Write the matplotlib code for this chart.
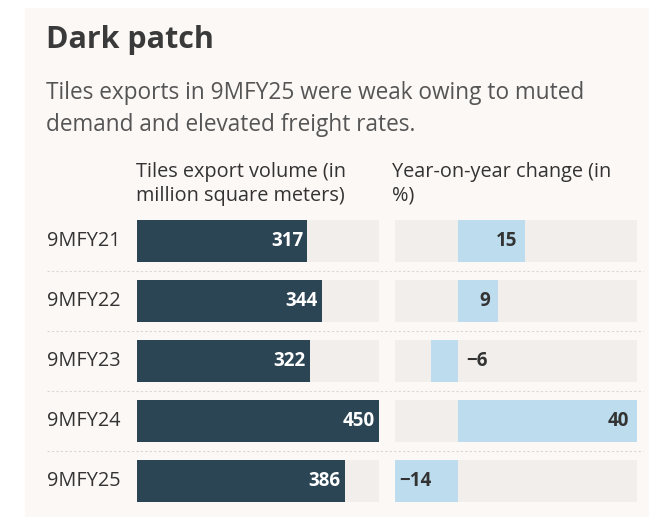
import matplotlib.pyplot as plt
from matplotlib.patches import Rectangle
from matplotlib.lines import Line2D

periods = ["9MFY21", "9MFY22", "9MFY23", "9MFY24", "9MFY25"]
volume = [317, 344, 322, 450, 386]
yoy_change = [15, 9, -6, 40, -14]

W, H = 649, 517
BG = "#fcf8f6"
TRACK = "#f1eeec"
DARK = "#2b4555"
LIGHT = "#bddcee"
TEXT = "#333333"

plt.rcParams["font.family"] = ["Open Sans", "DejaVu Sans"]

fig = plt.figure(figsize=(W / 100, H / 100), dpi=100, facecolor="white")


def px_axes(x0, y0, x1, y1):
    # axes placed by pixel box (top-left origin)
    return fig.add_axes([x0 / W, 1 - y1 / H, (x1 - x0) / W, (y1 - y0) / H])


fig.patches.append(Rectangle((25 / W, 0), 1, 1 - 8 / H, transform=fig.transFigure,
                             facecolor=BG, edgecolor="none", zorder=-5))

fig.text(46 / W, 1 - 40 / H, "Dark patch", fontsize=22, fontweight="bold",
         color="#3a3a3a", va="center", ha="left")
fig.text(46 / W, 1 - 93 / H, "Tiles exports in 9MFY25 were weak owing to muted",
         fontsize=16.3, color="#555555", va="center", ha="left")
fig.text(46 / W, 1 - 125 / H, "demand and elevated freight rates.",
         fontsize=16.3, color="#555555", va="center", ha="left")
fig.text(136 / W, 1 - 184 / H, "Tiles export volume (in\nmillion square meters)",
         fontsize=14.3, color=TEXT, va="center", ha="left", linespacing=1.2)
fig.text(392 / W, 1 - 184 / H, "Year-on-year change (in\n%)",
         fontsize=14.3, color=TEXT, va="center", ha="left", linespacing=1.2)

top, pitch, bar_h = 220, 60, 42
n = len(periods)
y_bottom = top + pitch * (n - 1) + bar_h

ax1 = px_axes(137, top, 379, y_bottom)
ax2 = px_axes(395, top, 637, y_bottom)
ypos = list(range(n))
frac = bar_h / pitch

for ax in (ax1, ax2):
    ax.set_ylim(n - 1 + frac / 2, -frac / 2)
    ax.axis("off")
    ax.set_zorder(2)

# Volume bars on a full-width track
ax1.set_xlim(0, 450)
ax1.barh(ypos, [450] * n, height=frac, color=TRACK, zorder=1)
ax1.barh(ypos, volume, height=frac, color=DARK, zorder=2)
for y, v in zip(ypos, volume):
    ax1.text(v - 8, y, f"{v}", color="white", fontsize=13.5, fontweight="bold",
             ha="right", va="center", zorder=3)

# Year-on-year change, diverging from zero
ax2.set_xlim(-14, 40)
ax2.barh(ypos, [54] * n, left=-14, height=frac, color=TRACK, zorder=1)
ax2.barh(ypos, yoy_change, height=frac, color=LIGHT, zorder=2)
for y, v in zip(ypos, yoy_change):
    label = f"{v}".replace("-", "\u2212")
    if v >= 0:
        ax2.text(v - 1.8, y, label, color=TEXT, fontsize=13.5, fontweight="bold",
                 ha="right", va="center", zorder=3)
    elif v > -10:
        ax2.text(1.8, y, label, color=TEXT, fontsize=13.5, fontweight="bold",
                 ha="left", va="center", zorder=3)
    else:
        ax2.text(v + 1.0, y, label, color=TEXT, fontsize=13.5, fontweight="bold",
                 ha="left", va="center", zorder=3)

for i, p in enumerate(periods):
    yc = top + pitch * i + bar_h / 2
    fig.text(47 / W, 1 - yc / H, p, fontsize=14.3, color=TEXT, va="center", ha="left")
    if i < n - 1:
        ys = 1 - (top + pitch * i + bar_h + 9) / H
        fig.lines.append(Line2D([47 / W, 643 / W], [ys, ys], transform=fig.transFigure,
                                color="#d8d8d8", linewidth=0.8, linestyle=(0, (2, 2))))

fig.savefig("out.png", dpi=100, facecolor="white")
